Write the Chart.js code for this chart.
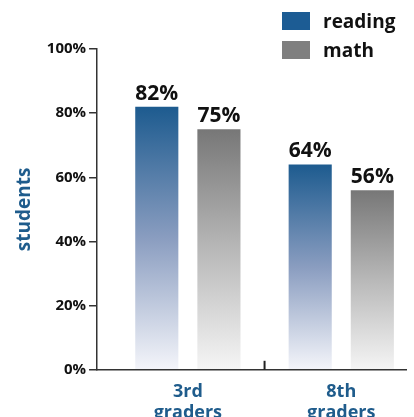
<!DOCTYPE html>
<html>
<head>
<meta charset="utf-8">
<script src="https://cdn.jsdelivr.net/npm/chart.js@4"></script>
<style>
    html, body { margin: 0; padding: 0; background: #fff; }
    #wrap { position: relative; width: 414px; height: 417px; }
    #legend { position: absolute; left: 282px; top: 6px; font: bold 19px "Open Sans"; color: #111; }
    .item { display: flex; align-items: center; height: 29px; }
    .box { width: 28px; height: 18px; margin-right: 13px; }
</style>
</head>
<body>
<div id="wrap">
    <canvas id="gradeChart" width="414" height="417"></canvas>
    <div id="legend"></div>
</div>
<script>
// Dữ liệu
const categories = [['3rd', 'graders'], ['8th', 'graders']];
const seriesNames = ['reading', 'math'];
const readingValues = [82, 64];
const mathValues = [75, 56];
const yTicks = [0, 20, 40, 60, 80, 100];

const readingColor = '#1c5c94';
const mathColor = '#7f7f7f';
const readingStops = ['#1d5b8f', '#8a9dc0', '#f4f5fa'];
const mathStops = ['#777777', '#b8b8b8', '#f5f5f5'];

// gradient theo từng cột, đậm ở đỉnh, nhạt ở đáy
function barGradient(stops) {
    return function(context) {
        const chart = context.chart;
        if (!chart.chartArea || context.type !== 'data') return stops[0];
        const y = chart.scales.y;
        const top = y.getPixelForValue(context.parsed.y);
        const bottom = y.getPixelForValue(0);
        const g = chart.ctx.createLinearGradient(0, top, 0, bottom);
        stops.forEach((c, i) => g.addColorStop(i / (stops.length - 1), c));
        return g;
    };
}

const valueLabels = {
    id: 'valueLabels',
    afterDatasetsDraw(chart) {
        const ctx = chart.ctx;
        ctx.save();
        ctx.font = 'bold 21px "Open Sans"';
        ctx.fillStyle = '#111';
        ctx.textAlign = 'center';
        ctx.textBaseline = 'alphabetic';
        chart.data.datasets.forEach((ds, i) => {
            chart.getDatasetMeta(i).data.forEach((bar, j) => {
                ctx.fillText(ds.data[j].y + '%', bar.x, bar.y - 7);
            });
        });
        // vạch nhỏ giữa hai nhóm
        const mid = chart.scales.x.getPixelForValue(0.5);
        ctx.strokeStyle = '#222';
        ctx.lineWidth = 2;
        ctx.beginPath();
        ctx.moveTo(mid, chart.chartArea.bottom);
        ctx.lineTo(mid, chart.chartArea.bottom - 9);
        ctx.stroke();
        ctx.restore();
    }
};

const toPoints = values => values.map((v, i) => ({ x: i, y: v }));

new Chart(document.getElementById('gradeChart'), {
    type: 'bar',
    data: {
        datasets: [
            { label: seriesNames[0], data: toPoints(readingValues), backgroundColor: barGradient(readingStops) },
            { label: seriesNames[1], data: toPoints(mathValues), backgroundColor: barGradient(mathStops) }
        ]
    },
    options: {
        responsive: false,
        animation: false,
        categoryPercentage: 0.81,
        barPercentage: 0.694,
        layout: { padding: { top: 49, left: 13, right: 8, bottom: -10 } },
        plugins: { legend: { display: false }, tooltip: { enabled: false } },
        scales: {
            x: {
                type: 'linear',
                min: -0.592,
                max: 1.422,
                offset: false,
                afterBuildTicks: scale => { scale.ticks = [{ value: 0 }, { value: 1 }]; },
                grid: { display: false },
                border: { display: true, color: '#333', width: 1.5 },
                ticks: {
                    autoSkip: false,
                    maxRotation: 0,
                    padding: 3,
                    color: '#1f5c8c',
                    font: { family: 'Open Sans', size: 18, weight: 'bold', lineHeight: 1.2 },
                    callback: value => categories[value]
                }
            },
            y: {
                min: 0,
                max: 100,
                afterBuildTicks: scale => { scale.ticks = yTicks.map(v => ({ value: v })); },
                grid: { drawOnChartArea: false, tickLength: 8, color: '#333', lineWidth: 1.5 },
                border: { display: true, color: '#333', width: 1.5 },
                ticks: {
                    padding: 3,
                    color: '#111',
                    font: { family: 'Open Sans', size: 15, weight: 'bold' },
                    callback: value => value + '%'
                },
                title: {
                    display: true,
                    text: 'students',
                    color: '#1f5c8c',
                    padding: { top: 0, bottom: 8 },
                    font: { family: 'Open Sans', size: 19, weight: 'bold' }
                }
            }
        }
    },
    plugins: [valueLabels]
});

// chú thích
const legend = document.getElementById('legend');
[readingColor, mathColor].forEach((c, i) => {
    const item = document.createElement('div');
    item.className = 'item';
    item.innerHTML = `<span class="box" style="background:${c}"></span><span>${seriesNames[i]}</span>`;
    legend.appendChild(item);
});
</script>
</body>
</html>
